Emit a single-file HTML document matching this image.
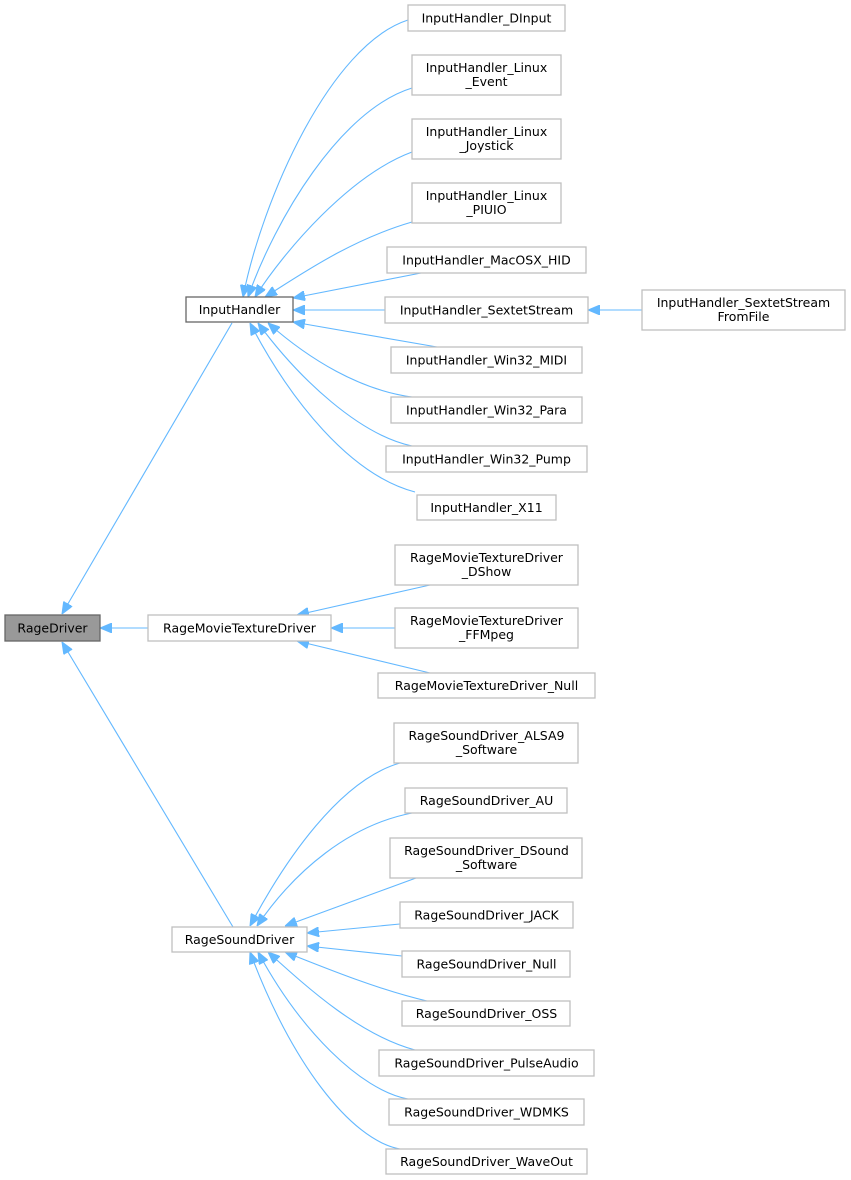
<!DOCTYPE html>
<html><head><meta charset="utf-8"><style>
html,body{margin:0;padding:0;background:#fff;}
svg{display:block;}
text{font-family:"DejaVu Sans","Liberation Sans",sans-serif;font-size:12.5px;fill:#000;text-anchor:middle;}
.n{fill:#fff;stroke:#bfbfbf;stroke-width:1.3;}
.e{fill:none;stroke:#63b8ff;stroke-width:1.1;}
</style></head><body>
<svg width="851" height="1180" viewBox="0 0 851 1180" xmlns="http://www.w3.org/2000/svg">
<defs>
<marker id="a" viewBox="0 0 12 10" refX="12" refY="5" markerWidth="12" markerHeight="10" markerUnits="userSpaceOnUse" orient="auto-start-reverse">
<path d="M0,0 L12,5 L0,10 z" fill="#63b8ff" stroke="#63b8ff"/>
</marker>
</defs>
<g class="e">
<path marker-start="url(#a)" d="M243,297 C262,200 330,45 408,20"/>
<path marker-start="url(#a)" d="M248,297 C275,220 340,110 412,88"/>
<path marker-start="url(#a)" d="M255,297 C285,250 350,175 412,152"/>
<path marker-start="url(#a)" d="M265,297 C300,275 350,240 412,222"/>
<path marker-start="url(#a)" d="M293,298 L421,273"/>
<path marker-start="url(#a)" d="M293,310 L385,310"/>
<path marker-start="url(#a)" d="M293,322 L437,347"/>
<path marker-start="url(#a)" d="M268,323 C310,360 360,390 412,397"/>
<path marker-start="url(#a)" d="M258,323 C300,380 360,435 412,446"/>
<path marker-start="url(#a)" d="M250,323 C290,400 350,475 415,492"/>
<path marker-start="url(#a)" d="M62,614 L232,323"/>
<path marker-start="url(#a)" d="M100,628 L148,628"/>
<path marker-start="url(#a)" d="M62,642 L233,927"/>
<path marker-start="url(#a)" d="M588,310 L642,310"/>
<path marker-start="url(#a)" d="M297,615 L430,585"/>
<path marker-start="url(#a)" d="M331,628 L395,628"/>
<path marker-start="url(#a)" d="M297,641 L430,673"/>
<path marker-start="url(#a)" d="M250,926 C285,860 340,780 400,763"/>
<path marker-start="url(#a)" d="M257,926 C295,870 350,825 412,813"/>
<path marker-start="url(#a)" d="M285,926 L416,878"/>
<path marker-start="url(#a)" d="M307,933 L400,924"/>
<path marker-start="url(#a)" d="M307,946 L402,956"/>
<path marker-start="url(#a)" d="M285,952 C330,970 380,990 427,1001"/>
<path marker-start="url(#a)" d="M268,952 C310,990 360,1035 415,1050"/>
<path marker-start="url(#a)" d="M258,952 C300,1030 360,1090 408,1099"/>
<path marker-start="url(#a)" d="M250,952 C290,1060 350,1140 400,1149"/>
</g>
<rect x="5" y="615" width="95" height="26" fill="#999" stroke="#666" stroke-width="1.3"/>
<text x="52.5" y="632.5">RageDriver</text>
<rect x="186" y="297" width="107" height="25" fill="#fff" stroke="#666" stroke-width="1.3"/>
<text x="239.5" y="314">InputHandler</text>
<rect class="n" x="148" y="615" width="183" height="26"/><text x="239.5" y="632.5">RageMovieTextureDriver</text>
<rect class="n" x="172" y="927" width="135" height="25"/><text x="239.5" y="944">RageSoundDriver</text>

<rect class="n" x="408" y="5" width="157" height="26"/><text x="486.5" y="22.5">InputHandler_DInput</text>
<rect class="n" x="412" y="55" width="149" height="40"/><text x="486.5" y="72">InputHandler_Linux</text><text x="486.5" y="86">_Event</text>
<rect class="n" x="412" y="119" width="149" height="40"/><text x="486.5" y="136">InputHandler_Linux</text><text x="486.5" y="150">_Joystick</text>
<rect class="n" x="412" y="183" width="149" height="40"/><text x="486.5" y="200">InputHandler_Linux</text><text x="486.5" y="214">_PIUIO</text>
<rect class="n" x="387" y="247" width="199" height="26"/><text x="486.5" y="264.5">InputHandler_MacOSX_HID</text>
<rect class="n" x="385" y="297" width="203" height="26"/><text x="486.5" y="314.5">InputHandler_SextetStream</text>
<rect class="n" x="642" y="290" width="203" height="40"/><text x="743.5" y="307">InputHandler_SextetStream</text><text x="743.5" y="321">FromFile</text>
<rect class="n" x="391" y="347" width="191" height="26"/><text x="486.5" y="364.5">InputHandler_Win32_MIDI</text>
<rect class="n" x="391" y="397" width="191" height="26"/><text x="486.5" y="414.5">InputHandler_Win32_Para</text>
<rect class="n" x="386" y="446" width="201" height="26"/><text x="486.5" y="463.5">InputHandler_Win32_Pump</text>
<rect class="n" x="417" y="495" width="139" height="25"/><text x="486.5" y="512">InputHandler_X11</text>

<rect class="n" x="395" y="545" width="183" height="40"/><text x="486.5" y="562">RageMovieTextureDriver</text><text x="486.5" y="576">_DShow</text>
<rect class="n" x="395" y="608" width="183" height="40"/><text x="486.5" y="625">RageMovieTextureDriver</text><text x="486.5" y="639">_FFMpeg</text>
<rect class="n" x="378" y="673" width="217" height="25"/><text x="486.5" y="690">RageMovieTextureDriver_Null</text>

<rect class="n" x="394" y="723" width="184" height="40"/><text x="486.5" y="740">RageSoundDriver_ALSA9</text><text x="486.5" y="754">_Software</text>
<rect class="n" x="405" y="788" width="162" height="25"/><text x="486.5" y="805">RageSoundDriver_AU</text>
<rect class="n" x="390" y="838" width="192" height="40"/><text x="486.5" y="855">RageSoundDriver_DSound</text><text x="486.5" y="869">_Software</text>
<rect class="n" x="400" y="902" width="173" height="26"/><text x="486.5" y="919.5">RageSoundDriver_JACK</text>
<rect class="n" x="402" y="951" width="168" height="26"/><text x="486.5" y="968.5">RageSoundDriver_Null</text>
<rect class="n" x="402" y="1001" width="168" height="25"/><text x="486.5" y="1018">RageSoundDriver_OSS</text>
<rect class="n" x="379" y="1050" width="215" height="26"/><text x="486.5" y="1067.5">RageSoundDriver_PulseAudio</text>
<rect class="n" x="389" y="1099" width="195" height="26"/><text x="486.5" y="1116.5">RageSoundDriver_WDMKS</text>
<rect class="n" x="386" y="1149" width="201" height="25"/><text x="486.5" y="1166">RageSoundDriver_WaveOut</text>
</svg>
</body></html>
